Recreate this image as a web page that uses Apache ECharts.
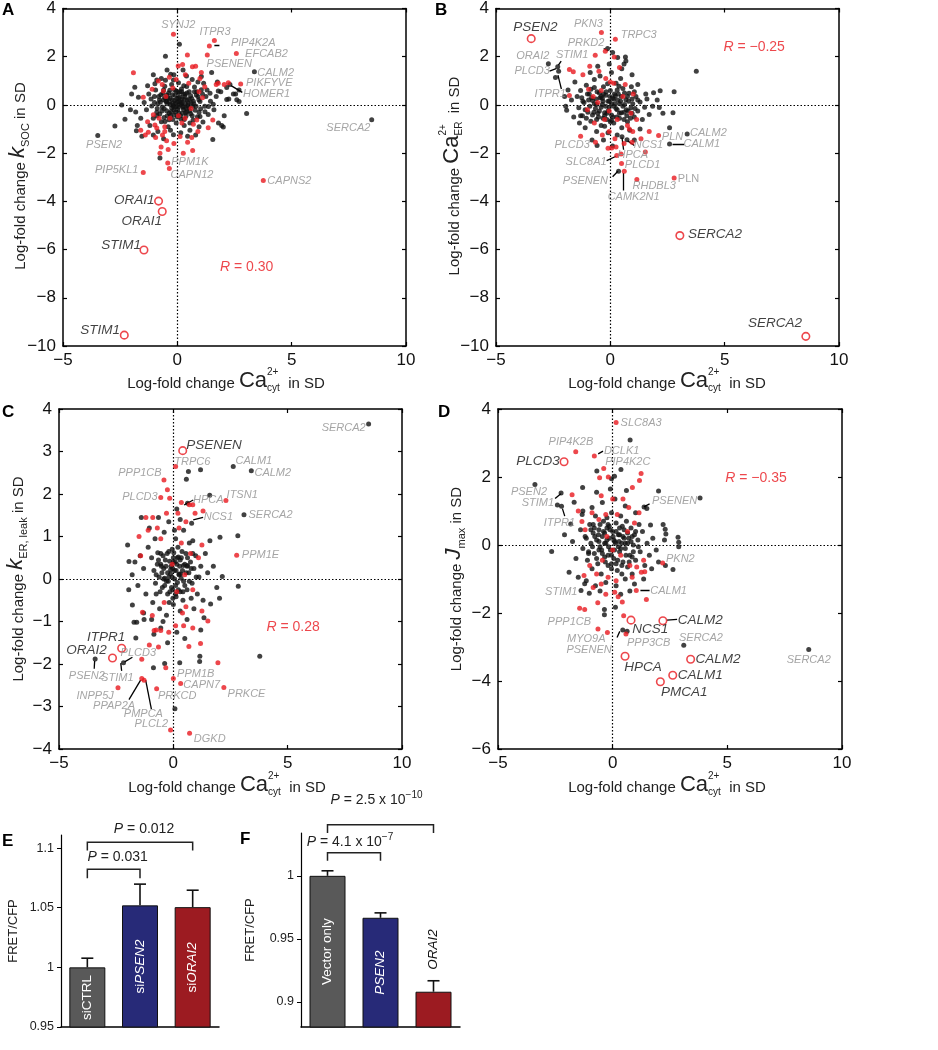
<!DOCTYPE html>
<html><head><meta charset="utf-8">
<script src="https://cdn.jsdelivr.net/npm/echarts@6/dist/echarts.min.js"></script>
<style>html,body{margin:0;padding:0;background:#fff}#c{width:938px;height:1050px}</style>
</head><body><div id="c"></div>
<script>
// ---------------- DATA ----------------
const xTicks = [-5, 0, 5, 10];
// Panel A : k_SOC vs Ca_cyt
const aBlack = [[0.09,2.52],[-0.52,2.02],[-1.86,0.73],[-1.7,0.32],[-2.43,0],[-1.82,-0.29],[-2.29,-0.59],[-2.73,-0.87],[-1.79,-1.07],[-0.76,-2.2],[-0.17,-1.24],[1.55,-1.43],[1.94,-0.85],[2.01,-0.92],[3.03,-0.36],[2.6,0.21],[2.7,0.14],[2.16,0.23],[2.16,0.72],[1.79,0.58],[1.43,0.48],[1.5,1.35],[-0.29,1.27],[-0.17,1.03],[-0.9,1.03],[-1.12,-0.04],[-0.54,-0.69],[0.99,-0.48],[1.21,-0.28],[1.36,-0.07],[1.57,0.03],[0.99,0.14],[0.85,0.55],[0.41,0.76],[0.19,0.55],[-0.32,0.28],[-0.47,0.14],[0.41,-0.28],[-3.48,-1.27],[8.5,-0.61],[3.37,1.38],[2.7,0.62],[2.55,0.45],
[-0.95,0.62],[-0.81,0.35],[-0.74,0.12],[-0.63,0.48],[-0.55,0.78],[-0.42,0.29],[-0.33,0.61],[-0.21,0.42],[-0.12,0.18],[0.03,0.51],[0.12,0.33],[0.21,0.08],[0.34,0.44],[0.43,0.19],[0.52,0.55],[0.63,0.27],[0.72,0.05],[0.83,0.41],[0.94,0.22],[1.05,0.63],[-0.88,-0.15],[-0.77,-0.38],[-0.66,-0.09],[-0.58,-0.52],[-0.47,-0.24],[-0.36,-0.61],[-0.25,-0.13],[-0.14,-0.42],[-0.05,-0.07],[0.07,-0.33],[0.16,-0.58],[0.27,-0.19],[0.38,-0.46],[0.49,-0.11],[0.58,-0.37],[0.69,-0.63],[0.78,-0.22],[0.88,-0.49],[1.02,-0.16],[1.12,-0.71],[-0.31,0.02],[-0.18,-0.02],[-0.08,0.07],[0.05,-0.1],[0.15,0.04],[0.25,-0.06],[-0.02,0.27],[0.09,0.14],[-0.15,-0.21],[0.31,0.23],[-0.45,0.05],[0.45,-0.02],[-0.6,0.22],[0.6,0.08],[-0.25,0.85],[0.28,0.8],[0.05,0.92],[-0.05,-0.75],[0.3,-0.85],[-0.4,-0.9],[-1.25,0.45],[-1.35,-0.2],[-1.15,0.25],[-1.05,-0.55],[-1.45,0.1],[1.25,0.35],[1.35,-0.4],[1.15,0.9],[1.6,-0.2],[1.7,0.35],[1.45,0.15],[0.65,1.05],[-0.7,1.1],[-0.15,1.25],[0.4,1.2],[0.9,0.95],[-1.6,-0.55],[-1.2,-0.85],[0.95,-0.9],[0.55,-1.05],[-0.85,-1.1],[-0.3,-1.05],[0.15,-1.15],[1.9,0.55],[2.3,0.85],[2.45,0.45],[-0.98,0.88],[-0.52,1.02],[0.18,0.66],[0.75,0.74],[1.2,-0.05],[-1.0,0.1],[-0.7,-0.7],[0.0,-0.5],[-0.2,0.05],[0.1,0.0],[0.35,0.05],[-0.35,-0.35],[0.22,-0.35],[-0.12,0.62],[0.55,-0.75],[-0.9,-0.45],[1.3,0.62],[-1.3,0.8],[-1.75,-0.85],[-1.55,-1.3],[-1.05,-1.25],[-0.6,-1.4],[0.45,-1.3],[0.8,-1.25],[1.05,1.18],[0.25,1.45],[-0.45,1.45],[-1.05,1.25],[2.05,-0.45],[1.8,-0.75],[2.25,0.25],[1.75,0.95],[-2.05,-0.2],[-2.0,0.45],
[-0.85,0.05],[-0.72,0.42],[-0.68,-0.25],[-0.5,0.15],[-0.44,-0.45],[-0.38,0.5],[-0.28,-0.28],[-0.22,0.22],[-0.1,0.4],[-0.08,-0.3],[0.0,0.12],[0.02,-0.2],[0.1,0.55],[0.14,-0.45],[0.2,0.25],[0.26,-0.1],[0.33,0.35],[0.36,-0.32],[0.42,0.5],[0.48,0.08],[0.55,-0.25],[0.58,0.38],[0.65,-0.45],[0.7,0.15],[0.75,0.55],[0.82,-0.05],[0.9,0.35],[-0.6,0.62],[-0.58,-0.15],[-0.35,0.12],[-0.15,-0.1],[0.05,0.3],[0.25,0.45],[0.4,-0.15],[-0.3,-0.45],[-0.45,0.4],[0.15,0.12],[0.68,-0.05],[-0.78,0.2],[0.52,0.25],[-0.05,0.58],[0.3,-0.6],[-0.55,0.3],[-0.2,-0.6],[0.95,-0.3],[1.1,0.45],[-1.0,0.35],[-0.9,-0.3]];
const aRed = [[-0.17,2.93],[1.62,2.67],[1.40,2.44],[2.58,2.13],[1.31,2.07],[-1.92,1.34],[-1.49,0.32],[-1.27,-1.13],[-0.76,-2.0],[-0.71,-1.75],[-0.47,-1.49],[0.12,-1.31],[0.63,-1.35],[0.67,-1.89],[0.26,-2.0],[1.55,-0.62],[1.79,0.9],[2.23,0.92],[2.77,0.87],[1.05,1.35],[0.99,1.1],[0.66,1.58],[0.44,2.07],[0.23,1.68],[0.04,1.61],[-0.83,0.99],[-0.66,0.85],[-0.61,0.58],[-1.05,-0.41],[-0.98,-0.83],[-0.9,-0.96],[-0.32,-0.55],[0.34,-0.55],[0.85,-0.62],[-1.49,-2.8],[-0.42,-2.41],[-0.35,-2.64],[3.76,-3.13],
[0.5,0.9],[-0.2,0.7],[0.7,-0.8],[-0.55,-0.9],[0.2,-0.75],[-0.05,1.05],[1.2,0.75],[-1.3,-0.7],[-0.65,-1.25],[-0.4,-1.85],[0.9,-1.1],[1.35,-0.95],[-1.1,0.65],[0.35,1.25],[-0.35,1.15],[0.8,1.6],[1.1,0.3],[-0.8,-0.55],[0.05,-0.45],[-0.5,0.35],[0.6,-0.15],[-1.6,-1.05],[-1.4,-1.25],[-0.95,-1.35],[-0.55,-1.1],[0.95,0.55],[1.7,0.85],[2.05,0.85],[-0.15,-1.6],[0.45,-1.55]];
const aOpen = [[-0.82,-3.99],[-0.66,-4.42],[-1.46,-6.02],[-2.32,-9.55]];
const aLabels = [[0.04,3.3,'SYNJ2'],[1.65,3.03,'ITPR3'],[3.32,2.59,'PIP4K2A'],[3.9,2.1,'EFCAB2'],[2.27,1.72,'PSENEN'],[4.3,1.31,'CALM2'],[4.02,0.91,'PIKFYVE'],[3.9,0.45,'HOMER1'],[7.48,-0.96,'SERCA2'],[-3.2,-1.68,'PSEN2'],[-2.65,-2.71,'PIP5KL1'],[0.55,-2.38,'PPM1K'],[0.64,-2.89,'CAPN12'],[4.9,-3.17,'CAPNS2']];
const aKeyLabels = [[-1.88,-3.97,'ORAI1'],[-1.56,-4.82,'ORAI1'],[-2.46,-5.83,'STIM1'],[-3.38,-9.35,'STIM1']];
const aLeaders = [[[1.62,2.48],[1.84,2.48]],[[2.35,0.8],[2.84,0.52]]];
const aR = [3.03,-6.72,'0.30'];

// Panel B : Ca_ER vs Ca_cyt
const bBlack = [[-0.12,2.34],[0.1,2.17],[0.32,1.97],[0.66,1.99],[0.68,1.82],[-2.71,1.71],[-2.3,1.58],[-2.26,1.4],[-2.4,1.14],[-1.85,0.62],[-1.91,-0.22],[3.76,1.4],[2.79,0.55],[2.18,0.59],[1.89,0.51],[2.74,-0.32],[2.14,-0.11],[2.59,-0.95],[3.36,-1.21],[2.59,-1.62],[0.73,-1.44],[-0.58,-1.68],[0.36,-2.75],[0.51,-1.32],
[-1.45,0.35],[-1.38,-0.12],[-1.3,0.6],[-1.22,-0.45],[-1.15,0.1],[-1.05,0.82],[-0.98,-0.3],[-0.92,0.45],[-0.85,-0.68],[-0.78,0.18],[-0.7,1.05],[-0.65,-0.15],[-0.58,0.55],[-0.52,-0.5],[-0.45,0.3],[-0.4,-0.85],[-0.35,0.02],[-0.3,0.75],[-0.25,-0.32],[-0.2,0.4],[-0.15,-0.6],[-0.1,0.15],[-0.05,-0.1],[0.0,0.6],[0.05,-0.42],[0.1,0.28],[0.15,-0.75],[0.2,0.05],[0.25,0.9],[0.3,-0.2],[0.35,0.45],[0.4,-0.55],[0.45,0.15],[0.5,-0.95],[0.55,0.68],[0.6,-0.3],[0.68,0.22],[0.75,-0.7],[0.82,0.48],[0.9,-0.12],[0.98,0.05],[1.05,-0.5],[1.12,0.35],[1.2,-0.25],[1.3,0.12],[1.4,-0.6],[1.5,-0.1],[1.6,0.25],[1.7,-0.4],[1.85,-0.05],[-1.6,-0.5],[-1.7,0.2],[-1.55,0.95],[-0.88,1.35],[-0.45,1.2],[0.05,1.35],[0.45,1.1],[0.95,1.25],[1.2,0.85],[-1.1,-0.95],[-0.6,-1.1],[-0.1,-1.15],[0.3,-1.25],[0.85,-1.05],[1.3,-1.0],[-0.8,-1.45],[0.1,-1.7],[-0.35,0.28],[-0.6,0.02],[0.15,-0.05],[-0.12,0.88],[0.62,0.02],[-0.78,-0.42],[0.38,0.78],[-1.25,0.3],[0.72,-0.45],[-0.25,-0.88],[0.92,0.75],[-0.95,0.2],[-0.48,-0.25],[0.22,0.38],[0.48,-0.32],[-0.15,-0.35],[1.05,0.55],[-1.35,-0.75],[-0.7,0.72],[0.0,-0.7],[0.78,-0.25],[-0.32,-0.55],[0.28,-0.5],[1.55,0.45],[2.05,0.2],[2.3,-0.35],[-2.0,0.35],[-1.95,-0.05],[-0.05,1.7],[0.5,1.5],[-0.55,1.6],[1.05,-1.45],[-0.3,-1.45],[0.6,1.7],
[-1.2,0.15],[-1.1,-0.2],[-1.0,0.45],[-0.9,-0.05],[-0.82,0.3],[-0.72,-0.3],[-0.62,0.25],[-0.55,-0.35],[-0.48,0.5],[-0.4,-0.1],[-0.32,0.15],[-0.25,-0.45],[-0.18,0.55],[-0.1,-0.25],[-0.02,0.35],[0.05,0.05],[0.12,-0.5],[0.18,0.45],[0.25,-0.15],[0.32,0.2],[0.4,-0.35],[0.48,0.35],[0.55,-0.05],[0.62,0.5],[0.7,-0.2],[0.8,0.15],[0.88,-0.55],[0.95,0.25],[1.08,-0.15],[1.2,0.2],[-1.3,-0.45],[-0.85,0.65],[-0.3,0.45],[0.3,0.62],[0.75,0.35],[-0.6,-0.6],[0.05,-0.65],[0.6,-0.6],[-0.05,0.15],[-0.7,0.05],[0.4,0.05],[-0.4,0.35],[0.15,0.25],[-0.2,-0.05],[0.95,-0.35],[-1.05,-0.55]];
const bRed = [[-0.39,3.0],[0.22,2.72],[-0.22,2.23],[-0.66,2.06],[0.17,1.99],[-1.79,1.47],[-1.62,1.38],[-1.79,0.39],[2.11,-1.27],[2.79,-3.03],[1.7,-1.1],[1.34,-1.4],[0.98,-1.1],[0.83,-1.0],[1.53,-1.95],[0.49,-2.43],[0.28,-2.1],[0.47,-2.04],[0.06,-1.79],[0.25,-1.75],[-0.1,-1.8],[0.61,-2.75],[1.16,-3.09],
[-0.9,1.6],[-0.5,1.4],[0.4,1.55],[0.65,0.85],[-1.2,1.25],[-0.95,0.65],[-0.4,0.6],[0.15,0.9],[0.55,0.35],[-0.25,-0.6],[-0.7,-0.75],[-0.05,-0.25],[0.3,-0.6],[0.75,-0.85],[-0.55,0.1],[0.9,-0.35],[-1.3,-1.3],[-0.35,-1.25],[0.2,-1.4],[0.6,-1.6],[-0.65,-1.55],[1.15,-0.6],[1.0,0.45],[-1.0,-0.2],[0.0,0.95],[-0.2,1.1],[-0.75,0.35],[0.95,-1.55],[-0.05,-1.1]];
const bOpen = [[-3.46,2.75],[3.04,-5.42],[8.55,-9.6]];
const bLabels = [[-0.96,3.36,'PKN3'],[1.24,2.92,'TRPC3'],[-1.06,2.56,'PRKD2'],[-3.39,2.02,'ORAI2'],[-1.67,2.06,'STIM1'],[-3.42,1.4,'PLCD3'],[-2.63,0.44,'ITPR1'],[4.29,-1.17,'CALM2'],[4.0,-1.62,'CALM1'],[2.72,-1.31,'PLN'],[1.67,-1.68,'NCS1'],[0.98,-2.09,'HPCA'],[1.41,-2.48,'PLCD1'],[-1.67,-1.65,'PLCD3'],[-1.06,-2.38,'SLC8A1'],[-1.09,-3.14,'PSENEN'],[1.02,-3.82,'CAMK2N1'],[1.92,-3.37,'RHDBL3'],[3.42,-3.09,'PLN','n']];
const bKeyLabels = [[-3.28,3.23,'PSEN2'],[4.58,-5.36,'SERCA2'],[7.2,-9.06,'SERCA2']];
const bLeaders = [[[-0.29,2.34],[-0.09,2.24]],[[-2.15,1.82],[-2.27,1.65]],[[-2.66,1.4],[-2.37,1.51]],[[-2.29,1.24],[-2.14,0.66]],[[0.76,-1.49],[1.05,-1.68]],[[0.51,-1.35],[0.58,-1.86]],[[0.25,-2.13],[-0.16,-2.31]],[[0.33,-2.75],[0.1,-2.98]],[[0.58,-2.82],[0.58,-3.55]],[[2.72,-1.62],[3.23,-1.62]]];
const bR = [6.29,2.38,'\u22120.25'];

// Panel C : k_ER,leak vs Ca_cyt
const cBlack = [[8.54,3.65],[0.66,2.53],[1.19,2.57],[0.57,2.35],[2.62,2.65],[3.41,2.55],[1.59,1.97],[0.62,1.78],[0.8,1.31],[3.09,1.51],[2.82,1.02],[2.04,0.98],[-3.42,-1.88],[-2.18,-1.97],[-1.64,-1.39],[0.07,-3.05],[3.78,-1.82],[1.16,-1.82],[1.15,-1.94],[0.28,-1.97],[-0.38,-1.99],[-0.87,-2.09],[2.84,-0.17],[2.02,-0.45],[1.34,-0.91],[1.63,-0.59],[-1.79,-0.61],[-1.72,-1.02],[-1.6,-1.02],[-1.28,-0.95],[-1.94,0.41],[2.14,0.06],
[-0.95,0.5],[-0.85,0.2],[-0.78,-0.1],[-0.7,0.35],[-0.62,0.05],[-0.55,0.6],[-0.48,-0.2],[-0.42,0.25],[-0.35,0.45],[-0.3,-0.05],[-0.25,0.15],[-0.2,0.65],[-0.15,-0.3],[-0.1,0.3],[-0.05,0.05],[0.0,0.5],[0.05,0.2],[0.1,-0.15],[0.15,0.35],[0.2,0.75],[0.25,0.1],[0.3,-0.3],[0.35,0.5],[0.4,0.2],[0.45,-0.05],[0.5,0.35],[0.55,0.6],[0.6,-0.25],[0.68,0.15],[0.75,0.4],[0.82,-0.1],[0.9,0.25],[0.98,0.55],[1.05,-0.35],[1.12,0.05],[1.2,0.3],[1.3,-0.5],[1.4,0.6],[1.5,0.15],[-1.1,0.75],[-1.2,-0.35],[-1.3,0.25],[-1.45,0.55],[-1.55,-0.15],[-0.9,-0.55],[-0.6,-0.7],[-0.3,-0.85],[0.0,-0.6],[0.3,-0.75],[0.6,-0.95],[0.9,-0.7],[-0.8,0.95],[-0.4,1.1],[0.1,0.95],[0.45,1.15],[0.85,0.9],[-1.05,1.2],[-0.65,1.45],[-0.2,1.35],[0.3,1.4],[-1.4,1.45],[0.15,1.65],[-0.55,-1.15],[0.15,-1.25],[-0.85,-1.3],[0.5,-1.4],[-1.3,-0.8],[-0.12,0.22],[0.08,0.4],[-0.22,-0.05],[0.18,-0.08],[-0.38,0.02],[0.32,0.12],[-0.05,0.7],[0.62,0.32],[-0.68,0.62],[0.22,0.52],[-0.52,0.3],[0.12,-0.42],[-0.18,-0.55],[0.42,-0.5],[-0.75,-0.35],[1.0,0.05],[-0.02,-0.25],[0.78,-0.45],[-1.68,0.4],[-1.8,0.1],[1.75,0.3],[1.9,-0.2],[-0.95,-0.95],[0.7,0.85],[1.2,-1.2],[-0.25,-1.5],[-0.45,-1.0],[0.05,1.15],[-1.95,-0.25],[1.6,0.9],[-2.0,0.8],
[-0.75,0.1],[-0.65,0.45],[-0.58,-0.3],[-0.5,0.15],[-0.45,0.55],[-0.38,-0.15],[-0.32,0.3],[-0.27,0.6],[-0.2,0.05],[-0.16,0.42],[-0.08,-0.2],[-0.03,0.25],[0.02,0.62],[0.06,0.0],[0.12,0.2],[0.17,0.5],[0.22,-0.25],[0.28,0.3],[0.34,0.02],[0.38,0.65],[0.44,0.32],[0.5,-0.15],[0.56,0.15],[0.62,0.5],[0.7,-0.05],[0.78,0.25],[0.85,0.6],[-0.42,0.0],[0.0,0.4],[0.25,0.12],[-0.12,0.12],[0.42,-0.3],[-0.55,0.35],[0.1,-0.35],[0.6,0.3],[-0.25,-0.35],[0.3,0.45],[-0.02,-0.45]];
const cRed = [[0.1,2.65],[-0.41,2.33],[-0.55,1.92],[-0.26,2.1],[-0.16,1.9],[2.3,1.85],[0.35,1.8],[0.7,1.75],[0.85,1.75],[2.77,0.56],[-1.38,-1.89],[-2.42,-2.56],[-1.38,-2.34],[-1.28,-2.38],[-0.12,-3.55],[0.71,-3.63],[0.0,-2.34],[0.32,-2.46],[-0.73,-2.58],[2.21,-2.55],[1.95,-1.97],[1.19,-1.52],[0.68,-1.59],[-0.33,-2.09],[1.51,-0.99],[-1.35,-0.78],[-0.92,-0.86],[-0.84,-1.21],[-0.55,-1.21],[-1.43,0.55],
[-1.2,1.45],[-0.9,1.45],[-0.7,1.2],[-1.1,1.15],[-0.3,1.55],[0.2,1.55],[0.55,1.35],[0.95,1.55],[1.3,1.6],[0.25,1.2],[-0.55,0.95],[0.35,0.85],[0.75,0.6],[1.1,0.5],[1.25,0.8],[0.5,0.1],[-0.05,0.35],[0.15,-0.3],[0.4,-0.8],[0.85,-0.25],[-0.4,-0.55],[0.55,-0.65],[0.1,-1.1],[0.45,-1.1],[-0.2,-1.25],[-0.65,-1.6],[-1.05,-1.55],[-0.75,-1.2],[0.85,-1.15],[1.25,-0.75],[-1.5,1.0]];
const cOpen = [[0.41,3.02],[-2.26,-1.63],[-2.66,-1.86]];
const cLabels = [[7.45,3.55,'SERCA2'],[0.83,2.75,'TRPC6'],[3.52,2.77,'CALM1'],[4.35,2.49,'CALM2'],[-1.46,2.49,'PPP1CB'],[-1.46,1.92,'PLCD3'],[3.01,1.98,'ITSN1'],[1.53,1.85,'HPCA'],[1.97,1.45,'NCS1'],[4.25,1.5,'SERCA2'],[3.81,0.56,'PPM1E'],[-3.78,-2.29,'PSEN2'],[-1.53,-1.74,'PLCD3'],[-2.45,-2.33,'STIM1'],[-3.42,-2.75,'INPP5J'],[-2.59,-2.98,'PPAP2A'],[-1.31,-3.18,'PMPCA'],[-0.96,-3.42,'PLCL2'],[1.59,-3.77,'DGKD'],[0.98,-2.24,'PPM1B'],[1.24,-2.5,'CAPN7'],[0.17,-2.75,'PRKCD'],[3.2,-2.7,'PRKCE']];
const cKeyLabels = [[1.78,3.14,'PSENEN'],[-2.94,-1.38,'ITPR1'],[-3.8,-1.68,'ORAI2']];
const cLeaders = [[[0.47,1.74],[0.87,1.86]],[[0.87,1.39],[1.3,1.45]],[[-3.44,-1.93],[-3.46,-2.11]],[[-2.13,-1.95],[-1.79,-1.84]],[[-2.3,-1.98],[-2.26,-2.16]],[[-1.43,-2.38],[-1.94,-2.84]],[[-1.21,-2.38],[-0.96,-3.06]]];
const cR = [5.24,-1.13,'0.28'];

// Panel D : J_max vs Ca_cyt
const dBlack = [[0.76,3.09],[-0.69,2.18],[0.36,2.22],[-0.05,1.95],[0.08,2.02],[-3.39,1.78],[-2.25,1.53],[-2.41,1.18],[-2.23,1.14],[-1.31,1.69],[-1.68,1.26],[-1.33,0.9],[-1.83,0.62],[1.37,1.12],[1.49,1.07],[2.0,1.59],[3.81,1.38],[1.65,0.59],[2.29,0.46],[2.32,0.32],[2.26,0.15],[2.85,0.23],[2.88,0.08],[2.88,-0.05],[-2.66,-0.19],[2.63,-0.72],[-1.38,-1.34],[-1.02,-1.42],[-1.22,-1.14],[-0.36,-1.9],[-0.36,-2.05],[0.12,-1.83],[0.44,-2.5],[0.63,-2.54],[3.1,-2.95],[8.55,-3.07],
[-1.4,0.45],[-1.3,-0.1],[-1.2,0.25],[-1.1,-0.45],[-1.0,0.6],[-0.95,0.05],[-0.9,-0.7],[-0.85,0.35],[-0.8,-0.25],[-0.75,0.85],[-0.7,0.15],[-0.65,-0.55],[-0.6,0.45],[-0.55,-0.05],[-0.5,-0.85],[-0.45,0.25],[-0.4,0.7],[-0.35,-0.35],[-0.3,0.05],[-0.25,0.5],[-0.2,-0.6],[-0.15,0.2],[-0.1,-0.15],[-0.05,0.95],[0.0,0.4],[0.05,-0.4],[0.1,0.1],[0.15,0.65],[0.2,-0.75],[0.25,0.3],[0.3,-0.2],[0.35,0.85],[0.4,0.05],[0.45,-0.5],[0.5,0.45],[0.55,-0.1],[0.6,0.7],[0.65,-0.65],[0.7,0.2],[0.75,-0.3],[0.8,0.5],[0.85,-0.85],[0.9,0.0],[0.95,0.3],[1.0,-0.45],[1.1,0.15],[1.2,-0.2],[1.3,0.4],[1.4,-0.6],[1.5,0.05],[1.6,-0.3],[1.75,0.2],[1.9,-0.15],[2.0,-0.5],[-1.6,-0.4],[-1.75,0.1],[-1.9,-0.8],[-2.1,0.3],[-1.5,-0.95],[-1.15,-1.05],[-0.75,-1.2],[-0.3,-1.1],[0.15,-1.2],[0.55,-1.0],[0.95,-1.15],[1.35,-1.0],[-0.9,1.1],[-0.45,1.25],[0.1,1.35],[0.55,1.15],[1.0,0.95],[-1.3,1.0],[-0.15,0.55],[0.25,-0.05],[-0.35,0.35],[0.05,0.15],[-0.6,0.1],[0.45,0.25],[-0.2,-0.3],[0.3,0.5],[-0.45,-0.25],[0.65,0.05],[-0.8,0.5],[0.15,-0.55],[-0.05,-0.7],[0.85,0.25],[-1.05,-0.2],[1.15,0.6],[-0.25,0.8],[0.4,-0.85],[-0.55,-1.35],[0.35,-1.45],[0.75,-1.35],[1.7,-0.7],[2.3,-0.6],[2.2,0.6],[-0.1,1.65],[0.6,1.6],[-0.7,1.55],
[-1.15,0.2],[-1.05,-0.25],[-0.95,0.45],[-0.88,-0.05],[-0.78,0.25],[-0.7,-0.4],[-0.62,0.3],[-0.55,0.6],[-0.48,-0.15],[-0.4,0.4],[-0.32,-0.5],[-0.25,0.15],[-0.18,-0.05],[-0.12,0.45],[-0.05,-0.3],[0.02,0.25],[0.08,-0.15],[0.15,0.4],[0.22,-0.45],[0.28,0.1],[0.35,-0.1],[0.42,0.55],[0.5,0.2],[0.58,-0.3],[0.65,0.35],[0.72,-0.5],[0.8,0.1],[0.9,-0.2],[1.0,0.4],[1.12,-0.05],[-0.35,0.05],[0.12,0.05],[-0.6,-0.15],[0.55,0.05],[-0.2,0.6],[0.3,0.3],[-0.85,0.6],[0.85,-0.35],[-0.05,-0.55],[0.4,-0.6]];
const dRed = [[0.15,3.6],[-1.61,2.74],[-0.8,2.62],[-0.39,2.25],[1.24,2.1],[1.17,1.9],[0.86,1.69],[-0.57,1.98],[-0.19,2.0],[-1.77,1.48],[-1.5,1.0],[-1.34,0.69],[2.18,-0.53],[1.03,-1.34],[1.47,-1.6],[1.4,-0.79],[-1.44,-1.86],[-1.22,-1.9],[0.48,-2.08],[0.58,-2.62],[-0.23,-2.57],[-0.64,-2.47],[0.42,-1.68],[0.09,-1.39],[0.24,-1.52],
[-0.5,1.45],[0.0,1.35],[0.45,1.35],[0.7,1.1],[-0.9,0.95],[-0.3,0.9],[0.2,0.9],[0.95,0.65],[1.15,0.95],[-0.6,0.75],[0.65,0.4],[-1.2,0.45],[0.35,-0.3],[-0.45,-0.45],[0.75,-0.6],[1.05,-0.65],[1.35,-0.45],[-1.0,-0.6],[-0.7,-0.85],[-0.2,-0.95],[0.15,-1.05],[-0.5,-1.15],[-0.85,-1.25],[-0.3,-1.45],[1.25,-0.8],[0.0,-0.15],[-0.25,0.25],[0.85,-0.95],[-1.25,-0.9],[-0.65,-1.7]];
const dOpen = [[-2.12,2.45],[0.8,-2.21],[2.19,-2.23],[0.54,-3.27],[3.4,-3.36],[2.62,-3.83],[2.08,-4.02]];
const dLabels = [[1.24,3.6,'SLC8A3'],[-1.82,3.02,'PIP4K2B'],[0.39,2.77,'DCLK1'],[0.66,2.44,'PIP4K2C'],[-3.65,1.56,'PSEN2'],[-3.26,1.23,'STIM1'],[-2.32,0.64,'ITPR1'],[2.7,1.29,'PSENEN'],[2.95,-0.4,'PKN2'],[-2.24,-1.39,'STIM1'],[2.44,-1.34,'CALM1'],[-1.89,-2.26,'PPP1CB'],[-1.15,-2.77,'MYO9A'],[-1.03,-3.09,'PSENEN'],[1.57,-2.87,'PPP3CB'],[3.85,-2.74,'SERCA2'],[8.55,-3.38,'SERCA2']];
const dKeyLabels = [[-3.26,2.45,'PLCD3'],[1.64,-2.47,'NCS1'],[3.82,-2.21,'CALM2'],[1.32,-3.59,'HPCA'],[4.59,-3.36,'CALM2'],[3.82,-3.83,'CALM1'],[3.12,-4.32,'PMCA1']];
const dLeaders = [[[-0.63,2.68],[-0.42,2.76]],[[-2.51,1.37],[-2.26,1.51]],[[-2.19,1.07],[-2.09,0.85]],[[1.36,1.12],[1.61,1.21]],[[1.21,-1.34],[1.61,-1.34]],[[2.37,-2.21],[2.81,-2.19]],[[0.19,-2.72],[0.31,-2.54]]];
const dR = [6.25,1.98,'\u22120.35'];

// Panel E / F bars
const eCats = ['siCTRL','siPSEN2','siORAI2'];
const eMeans = [1.0, 1.052, 1.0505];
const eErrTop = [1.0077, 1.0698, 1.0647];
const eTicks = [0.95, 1, 1.05, 1.1];
const eBrackets = [[0,1,1.0823,1.0748,1.0924,'0.031'],[0,2,1.105,1.098,1.1158,'0.012']];
const fCats = ['Vector only','PSEN2','ORAI2'];
const fMeans = [1.0, 0.9667, 0.908];
const fErrTop = [1.004, 0.9706, 0.9167];
const fTicks = [0.9, 0.95, 1];
const fBrackets = [[0,1,1.0183,1.0119,1.027,'4.1','\u22127'],[0,2,1.0405,1.034,1.0603,'2.5','\u221210']];

// ---------------- CHART ----------------
const FONT = '"Liberation Sans", Arial, sans-serif';
const RED = '#e8191f', BLK = '#111', GREY = '#8e8e8e';
const chart = echarts.init(document.getElementById('c'));

const grids = [
  {left:63, top:7, width:343, height:339},
  {left:496, top:7, width:343, height:339},
  {left:59, top:409, width:343, height:340},
  {left:498, top:409, width:344, height:340},
  {left:61, top:835, width:158, height:192},
  {left:301, top:833, width:159, height:194}
];
const yRanges = [[-10,4,2],[-10,4,2],[-4,4,1],[-6,4,2]];
const fmtMinus = v => (v < 0 ? '\u2212' + Math.abs(v) : String(v));

const xAxes = [], yAxes = [];
for (let p = 0; p < 4; p++) {
  const common = {gridIndex:p, type:'value', splitLine:{show:false},
    axisLine:{show:true, onZero:false, lineStyle:{color:'#000', width:1.5}},
    axisTick:{show:true, inside:true, length:4, lineStyle:{color:'#000', width:1.2}}};
  xAxes.push(Object.assign({}, common, {position:'bottom', min:-5, max:10, interval:5,
    axisLabel:{fontFamily:FONT, fontSize:17, color:BLK, margin:6, formatter:fmtMinus}}));
  xAxes.push(Object.assign({}, common, {position:'top', min:-5, max:10, interval:5, axisLabel:{show:false}}));
  const [mn, mx, iv] = yRanges[p];
  yAxes.push(Object.assign({}, common, {position:'left', min:mn, max:mx, interval:iv,
    axisLabel:{fontFamily:FONT, fontSize:17, color:BLK, margin:7, formatter:fmtMinus}}));
  yAxes.push(Object.assign({}, common, {position:'right', min:mn, max:mx, interval:iv, axisLabel:{show:false}}));
}
const barFmt = v => String(+(+v).toFixed(2));
[[4, eCats, 0.95, 1.111, eTicks, 41], [5, fCats, 0.88, 1.034, fTicks, 44]].forEach(([g, cats, mn, mx, ticks, gap]) => {
  xAxes.push({gridIndex:g, type:'category', data:cats, position:'bottom',
    axisLine:{show:true, onZero:false, lineStyle:{color:'#000', width:1.5}}, axisTick:{show:false}, axisLabel:{show:false}});
  yAxes.push({gridIndex:g, type:'value', min:mn, max:mx, splitLine:{show:false},
    name:'FRET/CFP', nameLocation:'middle', nameRotate:90, nameGap:gap,
    nameTextStyle:{fontFamily:FONT, fontSize:13, color:'#222'},
    axisLine:{show:true, onZero:false, lineStyle:{color:'#000', width:1.2}},
    axisTick:{show:true, inside:false, length:4, customValues:ticks, lineStyle:{color:'#000'}},
    axisLabel:{fontFamily:FONT, fontSize:12.5, color:'#222', margin:7, customValues:ticks, formatter:barFmt}});
});

function panelSeries(p, black, red, open, labels, keyLabels, leaders, r) {
  const ax = {xAxisIndex:2*p, yAxisIndex:2*p};
  return [
    Object.assign({type:'scatter', data:black, symbolSize:5, itemStyle:{color:BLK}, silent:true, z:2,
      markLine:{silent:true, symbol:['none','none'], label:{show:false}, z:1,
        lineStyle:{color:'#000', width:1.2, type:[1.5,2]}, data:[{xAxis:0},{yAxis:0}]}}, ax),
    Object.assign({type:'scatter', data:red, symbolSize:5, itemStyle:{color:RED}, silent:true, z:3}, ax),
    Object.assign({type:'lines', coordinateSystem:'cartesian2d', silent:true, z:3,
      data:leaders.map(s => ({coords:s})), lineStyle:{color:'#000', width:1.3, opacity:1}}, ax),
    Object.assign({type:'scatter', data:open, symbolSize:7.5, silent:true, z:4,
      itemStyle:{color:'#fff', borderColor:RED, borderWidth:1.6}}, ax),
    Object.assign({type:'scatter', symbolSize:1, itemStyle:{color:'rgba(0,0,0,0)'}, silent:true, z:5,
      data:labels.map(a => ({value:[a[0],a[1]], name:a[2], label: a[3]==='n' ? {fontStyle:'normal'} : undefined})),
      label:{show:true, position:'inside', formatter:'{b}', color:GREY, fontStyle:'italic', fontFamily:FONT, fontSize:11}}, ax),
    Object.assign({type:'scatter', symbolSize:1, itemStyle:{color:'rgba(0,0,0,0)'}, silent:true, z:5,
      data:keyLabels.map(a => ({value:[a[0],a[1]], name:a[2]})),
      label:{show:true, position:'inside', formatter:'{b}', color:BLK, fontStyle:'italic', fontFamily:FONT, fontSize:13.5}}, ax),
    Object.assign({type:'scatter', symbolSize:1, itemStyle:{color:'rgba(0,0,0,0)'}, silent:true, z:5,
      data:[{value:[r[0],r[1]], name:r[2]}],
      label:{show:true, position:'inside', formatter:'{i|R} = {b}', color:RED, fontFamily:FONT, fontSize:14,
        rich:{i:{fontStyle:'italic', color:RED, fontFamily:FONT, fontSize:14}}}}, ax)
  ];
}

function errRender(errs) {
  return function (params, api) {
    const i = api.value(0);
    const p0 = api.coord([i, api.value(1)]);
    const p1 = api.coord([i, errs[params.dataIndex]]);
    return {type:'group', children:[
      {type:'line', shape:{x1:p0[0], y1:p0[1], x2:p1[0], y2:p1[1]}, style:{stroke:'#111', lineWidth:1.6}},
      {type:'line', shape:{x1:p1[0]-6, y1:p1[1], x2:p1[0]+6, y2:p1[1]}, style:{stroke:'#111', lineWidth:1.6}}
    ]};
  };
}
function brRender(brs, sup, dx) {
  return function (params, api) {
    const b = brs[params.dataIndex];
    const a1 = api.coord([b[0], b[3]]), a2 = api.coord([b[0], b[2]]);
    const a3 = api.coord([b[1], b[2]]), a4 = api.coord([b[1], b[3]]);
    const ty = api.coord([b[0], b[4]])[1];
    const txt = sup ? '{i|P} = ' + b[5] + ' x 10{s|' + b[6] + '}' : '{i|P} = ' + b[5];
    return {type:'group', children:[
      {type:'polyline', shape:{points:[a1,a2,a3,a4]}, style:{stroke:'#222', lineWidth:1.5, fill:null}},
      {type:'text', x:(a2[0]+a3[0])/2 + dx, y:ty, style:{text:txt, align:'center', verticalAlign:'middle',
        fontFamily:FONT, fontSize:14, fill:'#222',
        rich:{i:{fontStyle:'italic', fontFamily:FONT, fontSize:14, fill:'#222', lineHeight:20},
              s:{fontFamily:FONT, fontSize:10, fill:'#222', verticalAlign:'top', lineHeight:10}}}}
    ]};
  };
}

const richWhite = {i:{fontStyle:'italic', color:'#fff', fontFamily:FONT, fontSize:13.5}};
const insideLbl = {show:true, position:'inside', rotate:90, align:'center', verticalAlign:'middle',
  color:'#fff', fontFamily:FONT, fontSize:13.5, rich:richWhite};
const eColors = ['#595959', '#272a78', '#9c1b21'];
const eLabelFmt = ['siCTRL', 'si{i|PSEN2}', 'si{i|ORAI2}'];
const fLabelFmt = ['Vector only', '{i|PSEN2}', 'ORAI2'];

const series = [].concat(
  panelSeries(0, aBlack, aRed, aOpen, aLabels, aKeyLabels, aLeaders, aR),
  panelSeries(1, bBlack, bRed, bOpen, bLabels, bKeyLabels, bLeaders, bR),
  panelSeries(2, cBlack, cRed, cOpen, cLabels, cKeyLabels, cLeaders, cR),
  panelSeries(3, dBlack, dRed, dOpen, dLabels, dKeyLabels, dLeaders, dR),
  [
    {type:'bar', xAxisIndex:8, yAxisIndex:8, barWidth:36, silent:true,
      data:eMeans.map((v,i) => ({value:v, itemStyle:{color:eColors[i], borderColor:'#111', borderWidth:1},
        label:Object.assign({}, insideLbl, {formatter:eLabelFmt[i]})}))},
    {type:'custom', xAxisIndex:8, yAxisIndex:8, silent:true, clip:false, data:eMeans.map((v,i)=>[i,v]), renderItem:errRender(eErrTop), encode:{x:0,y:1}},
    {type:'custom', xAxisIndex:8, yAxisIndex:8, silent:true, clip:false, data:eBrackets.map(b=>[b[0],b[2]]), renderItem:brRender(eBrackets,false,4), encode:{x:0,y:1}},
    {type:'bar', xAxisIndex:9, yAxisIndex:9, barWidth:36, silent:true,
      data:fMeans.map((v,i) => ({value:v, itemStyle:{color:eColors[i], borderColor:'#111', borderWidth:1},
        label: i < 2 ? Object.assign({}, insideLbl, {formatter:fLabelFmt[i]}) :
          {show:true, position:'top', rotate:90, align:'left', verticalAlign:'middle', distance:22,
           formatter:fLabelFmt[i], color:'#111', fontStyle:'italic', fontFamily:FONT, fontSize:13.5}}))},
    {type:'custom', xAxisIndex:9, yAxisIndex:9, silent:true, clip:false, data:fMeans.map((v,i)=>[i,v]), renderItem:errRender(fErrTop), encode:{x:0,y:1}},
    {type:'custom', xAxisIndex:9, yAxisIndex:9, silent:true, clip:false, data:fBrackets.map(b=>[b[0],b[2]]), renderItem:brRender(fBrackets,true,-4), encode:{x:0,y:1}}
  ]
);

// ---- axis titles with sub/superscripts ----
const mctx = document.createElement('canvas').getContext('2d');
function tw(t, s, it) { mctx.font = (it ? 'italic ' : '') + s + 'px ' + FONT; return mctx.measureText(t).width; }
function titleGroup(cx, cy, rotated, parts) {
  const widths = parts.map(p => p.stack ? Math.max.apply(null, p.stack.map(q => tw(q.t, q.s, q.i))) : tw(p.t, p.s, p.i));
  const total = widths.reduce((a, b) => a + b, 0);
  let x = -total / 2; const children = [];
  parts.forEach((p, k) => {
    (p.stack || [p]).forEach(q => children.push({type:'text', x:x, y:(q.dy || 0) - 0.35 * q.s,
      style:{text:q.t, fontFamily:FONT, fontSize:q.s, fontStyle:q.i ? 'italic' : 'normal', fill:'#222', align:'left', verticalAlign:'middle'}}));
    x += widths[k];
  });
  return {type:'group', x:cx, y:cy, rotation: rotated ? Math.PI / 2 : 0, silent:true, children};
}
const xTitleParts = [{t:'Log-fold change ', s:15}, {t:'Ca', s:22}, {stack:[{t:'2+', s:10, dy:-13}, {t:'cyt', s:10, dy:3}]}, {t:'  in SD', s:15}];
const graphics = [
  titleGroup(226, 389, false, xTitleParts),
  titleGroup(667, 389, false, xTitleParts),
  titleGroup(227, 793, false, xTitleParts),
  titleGroup(667, 793, false, xTitleParts),
  titleGroup(26, 176, true, [{t:'Log-fold change ', s:15}, {t:'k', s:22, i:true}, {t:'SOC', s:11, dy:4}, {t:' in SD', s:15}]),
  titleGroup(460, 176, true, [{t:'Log-fold change ', s:15}, {t:'Ca', s:22}, {stack:[{t:'2+', s:10, dy:-13}, {t:'ER', s:10, dy:3}]}, {t:'  in SD', s:15}]),
  titleGroup(24, 579, true, [{t:'Log-fold change ', s:15}, {t:'k', s:22, i:true}, {t:'ER, leak', s:11, dy:4}, {t:' in SD', s:15}]),
  titleGroup(462, 579, true, [{t:'Log-fold change ', s:15}, {t:'J', s:22, i:true}, {t:'max', s:11, dy:4}, {t:' in SD', s:15}])
];
[['A',2,2],['B',435,2],['C',2,404],['D',438,404],['E',2,833],['F',240,831]].forEach(([t, x, y]) =>
  graphics.push({type:'text', x, y, silent:true, style:{text:t, fontFamily:FONT, fontSize:17, fontWeight:'bold', fill:'#000', align:'left', verticalAlign:'top'}}));

chart.setOption({
  animation:false,
  backgroundColor:'#fff',
  textStyle:{fontFamily:FONT},
  grid:grids,
  xAxis:xAxes,
  yAxis:yAxes,
  series:series,
  graphic:graphics
});
</script>
</body></html>
